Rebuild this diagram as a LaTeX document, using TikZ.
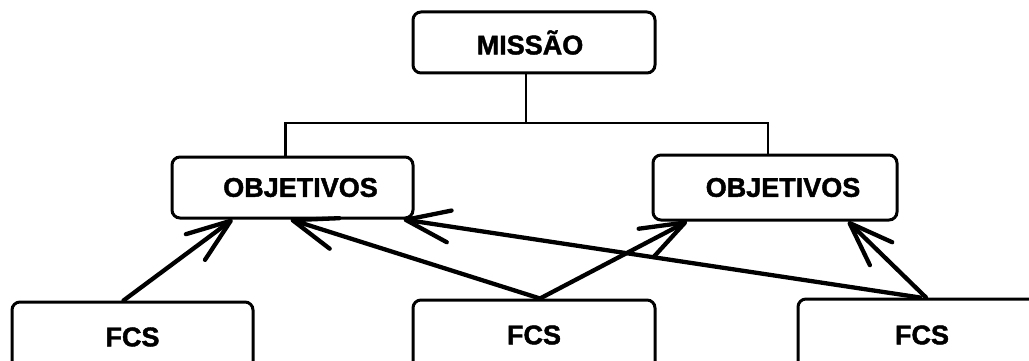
\documentclass[tikz,border=0pt]{standalone}
\usepackage{fontspec}
\setmainfont{Liberation Sans}[BoldFeatures={FakeBold=1.6}]
\usetikzlibrary{arrows.meta}
\begin{document}
\begin{tikzpicture}[x=1pt,y=-1pt,
  box/.style={draw, rounded corners=8pt, line width=3pt, inner sep=0pt,
    font=\fontsize{27}{30}\selectfont\bfseries},
  link/.style={line width=2.6pt},
  arr/.style={line width=4.3pt, line cap=round,
    -{Straight Barb[length=44pt,width=32pt,line cap=round,line join=round]}}]
\useasboundingbox (0,0) rectangle (1029,361);
\clip (0,0) rectangle (1029,361);
\fill[white] (0,0) rectangle (1029,361);

\node[box, minimum width=242pt, minimum height=61pt] (mis) at (534,42.5) {MISSÃO\hspace*{8pt}};
\node[box, minimum width=241pt, minimum height=61pt] (objL) at (292.5,187.5) {\hspace*{16pt}OBJETIVOS};
\node[box, minimum width=244pt, minimum height=65pt] (objR) at (775,187.5) {\hspace*{16pt}OBJETIVOS};
\node[box, minimum width=241pt, minimum height=70pt] (fcsL) at (132.5,337) {FCS};
\node[box, minimum width=242pt, minimum height=70pt] (fcsM) at (534,335) {FCS};
\node[box, minimum width=248pt, minimum height=72pt] (fcsR) at (922,335) {FCS};

\coordinate (bus) at (0,123);
\draw[link] ([xshift=-8pt]mis.south) -- ([xshift=-8pt]mis.south |- bus);
\draw[link] ([xshift=-7pt]objL.north) |- ([xshift=-7pt]objR.north |- bus) -- ([xshift=-7pt]objR.north);

\draw[arr] ([xshift=-9pt]fcsL.north) -- ([xshift=-60pt]objL.south);
\draw[arr] ([xshift=6pt]fcsM.north) -- ([xshift=-2pt]objL.south);
\draw[arr] ([xshift=6pt]fcsM.north) -- ([xshift=-88pt]objR.south);
\draw[arr] ([xshift=-2pt]fcsR.north) -- ([xshift=111pt]objL.south);
\draw[arr] ([xshift=4pt]fcsR.north) -- ([xshift=73pt]objR.south);
\end{tikzpicture}
\end{document}
